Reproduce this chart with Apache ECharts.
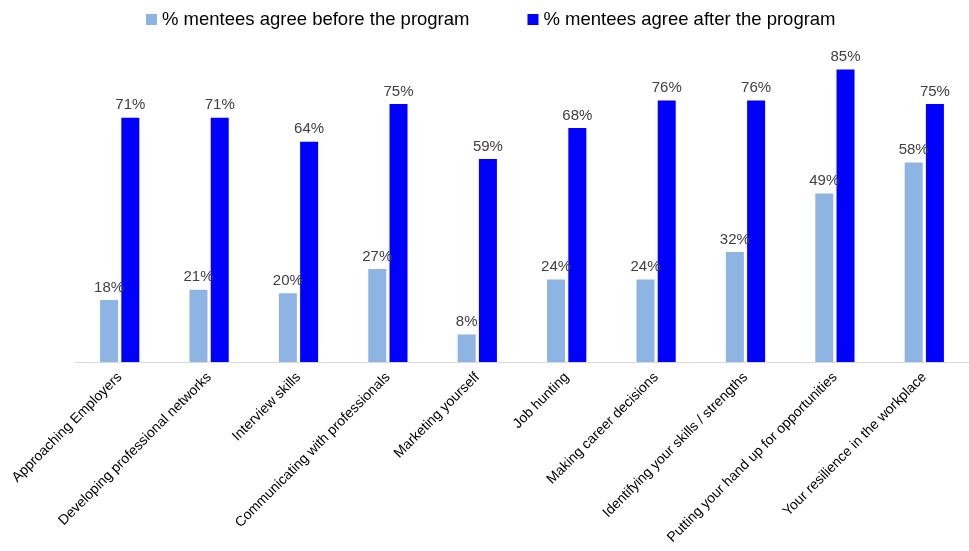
<!DOCTYPE html>
<html>
<head>
<meta charset="utf-8">
<script src="https://cdn.jsdelivr.net/npm/echarts@6/dist/echarts.min.js"></script>
<style>
  html, body { margin: 0; padding: 0; background: #fff; }
  #chart { width: 969px; height: 551px; }
</style>
</head>
<body>
<div id="chart"></div>
<script>
var categories = ['Approaching Employers', 'Developing professional networks', 'Interview skills',
    'Communicating with professionals', 'Marketing yourself', 'Job hunting', 'Making career decisions',
    'Identifying your skills / strengths', 'Putting your hand up for opportunities', 'Your resilience in the workplace'];
var beforeVals = [18, 21, 20, 27, 8, 24, 24, 32, 49, 58];
var afterVals = [71, 71, 64, 75, 59, 68, 76, 76, 85, 75];
var seriesNames = ['% mentees agree before the program', '% mentees agree after the program'];

var chart = echarts.init(document.getElementById('chart'));

var labelStyle = {
    show: true,
    position: 'top',
    distance: 5,
    color: '#404040',
    fontSize: 15,
    fontFamily: 'Liberation Sans',
    formatter: '{c}%'
};

var option = {
    animation: false,
    textStyle: { fontFamily: 'Liberation Sans' },
    legend: {
        top: 5,
        left: 141,
        itemWidth: 11,
        itemHeight: 11,
        itemGap: 58,
        icon: 'rect',
        textStyle: { fontSize: 18.5, color: '#000', fontFamily: 'Liberation Sans' },
        data: seriesNames
    },
    grid: { left: 75, right: 0, top: 18, bottom: 189, containLabel: false },
    xAxis: {
        type: 'category',
        data: categories,
        axisLine: { lineStyle: { color: '#d9d9d9', width: 1 } },
        axisTick: { show: false },
        axisLabel: {
            interval: 0,
            rotate: 45,
            color: '#000',
            fontSize: 14,
            margin: 13,
            fontFamily: 'Liberation Sans'
        }
    },
    yAxis: {
        type: 'value',
        min: 0,
        max: 100,
        show: false,
        splitLine: { show: false }
    },
    series: [
        {
            name: seriesNames[0],
            type: 'bar',
            data: beforeVals,
            barWidth: 18,
            barGap: '18%',
            itemStyle: { color: '#8eb4e3' },
            label: labelStyle
        },
        {
            name: seriesNames[1],
            type: 'bar',
            data: afterVals,
            barWidth: 18,
            itemStyle: { color: '#0000ff' },
            label: labelStyle
        }
    ]
};

chart.setOption(option);
</script>
</body>
</html>
